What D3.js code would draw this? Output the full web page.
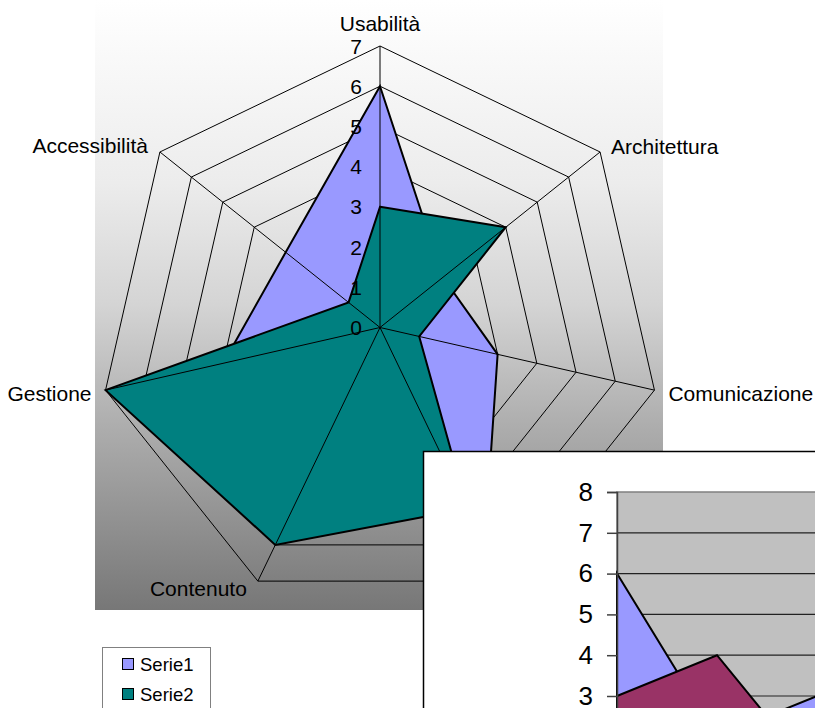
<!DOCTYPE html>
<html>
<head>
<meta charset="utf-8">
<script src="https://cdn.jsdelivr.net/npm/d3@7"></script>
<style>
    body { margin: 0; background: #fff; }
    text { font-family: "Liberation Sans", Arial, sans-serif; fill: #000; }
</style>
</head>
<body>
<div id="chart"></div>
<script>

// categories of the radar (the 4th label is hidden under the second chart)
var categories = ['Usabilità', 'Architettura', 'Comunicazione', 'Navigazione', 'Contenuto', 'Gestione', 'Accessibilità'];
var serie1 = [6, 2, 3, 6, 3, 4, 3];
var serie2 = [3, 4, 1, 5, 6, 7, 1];
var seriesNames = ['Serie1', 'Serie2'];
var radarTicks = [0, 1, 2, 3, 4, 5, 6, 7];
var areaTicks = [3, 4, 5, 6, 7, 8];

var colors = ['#9999ff', '#008080'];
var areaColors = ['#9999ff', '#993366'];

var width = 815, height = 708;

var svg = d3.select('#chart')
    .append('svg')
    .attr('width', width)
    .attr('height', height);

// gradient of the radar plot area
var grad = svg.append('defs').append('linearGradient')
    .attr('id', 'bg')
    .attr('x1', 0).attr('y1', 0).attr('x2', 0).attr('y2', 1);
grad.append('stop').attr('offset', 0).attr('stop-color', '#ffffff');
grad.append('stop').attr('offset', 0.3).attr('stop-color', '#ececec');
grad.append('stop').attr('offset', 0.5).attr('stop-color', '#d4d4d4');
grad.append('stop').attr('offset', 0.7).attr('stop-color', '#adadad');
grad.append('stop').attr('offset', 1).attr('stop-color', '#777777');

svg.append('rect')
    .attr('x', 95).attr('y', 0)
    .attr('width', 663 - 95).attr('height', 610)
    .attr('fill', 'url(#bg)');

// ---- radar chart ----
var cx = 380, cy = 327.5;
var r = d3.scaleLinear().domain([0, 7]).range([0, 281.5]);
var step = 2 * Math.PI / categories.length;
function ang(i) { return i * step; }

var radar = svg.append('g').attr('transform', `translate(${cx},${cy})`);

var ringLine = d3.lineRadial()
    .angle((d, i) => ang(i))
    .radius(d => r(d))
    .curve(d3.curveLinearClosed);

// rings
radar.append('g').selectAll('path')
    .data(radarTicks.slice(1))
    .enter().append('path')
    .attr('d', t => ringLine(categories.map(() => t)))
    .attr('fill', 'none')
    .attr('stroke', '#000')
    .attr('stroke-width', 1);

// series
radar.append('g').selectAll('path')
    .data([serie1, serie2])
    .enter().append('path')
    .attr('d', d => ringLine(d))
    .attr('fill', (d, i) => colors[i])
    .attr('stroke', '#000')
    .attr('stroke-width', 2)
    .attr('stroke-linejoin', 'miter');

// axes from the centre
radar.append('g').selectAll('line')
    .data(categories)
    .enter().append('line')
    .attr('x1', 0).attr('y1', 0)
    .attr('x2', (d, i) => r(7) * Math.sin(ang(i)))
    .attr('y2', (d, i) => -r(7) * Math.cos(ang(i)))
    .attr('stroke', '#000')
    .attr('stroke-width', 1);

// tick labels
radar.append('g').selectAll('text')
    .data(radarTicks)
    .enter().append('text')
    .attr('x', -18)
    .attr('y', d => -r(d))
    .attr('dy', '0.36em')
    .attr('text-anchor', 'end')
    .style('font-size', '21px')
    .text(d => d);

// category labels (the one under the second chart is not visible)
var labelPos = [
    { dx: 0, dy: -7, anchor: 'middle' },
    { dx: 11, dy: -6, anchor: 'start' },
    { dx: 14, dy: 3, anchor: 'start' },
    null,
    { dx: -11, dy: 7, anchor: 'end' },
    { dx: -14, dy: 3, anchor: 'end' },
    { dx: -12, dy: -7, anchor: 'end' }
];

radar.append('g').selectAll('text')
    .data(categories.map((c, i) => ({ name: c, i: i })).filter(d => labelPos[d.i]))
    .enter().append('text')
    .attr('x', d => r(7) * Math.sin(ang(d.i)) + labelPos[d.i].dx)
    .attr('y', d => -r(7) * Math.cos(ang(d.i)) + labelPos[d.i].dy)
    .attr('text-anchor', d => labelPos[d.i].anchor)
    .attr('dy', d => d.i == 0 ? '-0.4em' : '0.36em')
    .style('font-size', '21px')
    .text(d => d.name);

// legend
var legend = svg.append('g').attr('transform', 'translate(102,647)');
legend.append('rect')
    .attr('x', 0.5).attr('y', 0.5)
    .attr('width', 108).attr('height', 80)
    .attr('fill', '#fff')
    .attr('stroke', '#808080')
    .attr('stroke-width', 1);

var items = legend.selectAll('g.item')
    .data(seriesNames)
    .enter().append('g')
    .attr('class', 'item')
    .attr('transform', (d, i) => `translate(20,${11 + i * 30})`);
items.append('rect')
    .attr('x', 0.5).attr('y', 0.5)
    .attr('width', 11).attr('height', 11)
    .attr('fill', (d, i) => colors[i])
    .attr('stroke', '#000');
items.append('text')
    .attr('x', 18).attr('y', 6)
    .attr('dy', '0.36em')
    .style('font-size', '18.5px')
    .text(d => d);

// ---- second chart on top (area chart) ----
var over = svg.append('g');
over.append('rect')
    .attr('x', 423.5).attr('y', 451.5)
    .attr('width', 500).attr('height', 400)
    .attr('fill', '#fff')
    .attr('stroke', '#000')
    .attr('stroke-width', 1.5);

var y = d3.scaleLinear().domain([0, 8]).range([818.4, 492]);
var x = d3.scalePoint().domain(categories).range([617, 617 + 100 * (categories.length - 1)]);

over.append('rect')
    .attr('x', 617).attr('y', y(8))
    .attr('width', 700).attr('height', y(0) - y(8))
    .attr('fill', '#c0c0c0')
    .attr('stroke', '#808080')
    .attr('stroke-width', 1.5);

over.append('g').selectAll('line')
    .data(d3.range(1, 8))
    .enter().append('line')
    .attr('x1', 617).attr('x2', 1317)
    .attr('y1', d => y(d)).attr('y2', d => y(d))
    .attr('stroke', '#222')
    .attr('stroke-width', 1.2);

var area = d3.area()
    .x((d, i) => x(categories[i]))
    .y0(y(0))
    .y1(d => y(d));

over.append('g').selectAll('path')
    .data([serie1, serie2])
    .enter().append('path')
    .attr('d', d => area(d))
    .attr('fill', (d, i) => areaColors[i])
    .attr('stroke', '#000')
    .attr('stroke-width', 2)
    .attr('stroke-linejoin', 'miter');

var yAxis = d3.axisLeft(y).tickValues(areaTicks).tickSize(10).tickPadding(14);
var gy = over.append('g')
    .attr('transform', 'translate(617,0)')
    .call(yAxis);
gy.select('.domain').attr('stroke', '#404040').attr('stroke-width', 1.5);
gy.selectAll('.tick line').attr('stroke', '#404040').attr('stroke-width', 1.5);
gy.selectAll('.tick text')
    .style('font-size', '26px')
    .style('font-family', '"Liberation Sans", Arial, sans-serif')
    .attr('fill', '#000');

</script>
</body>
</html>
